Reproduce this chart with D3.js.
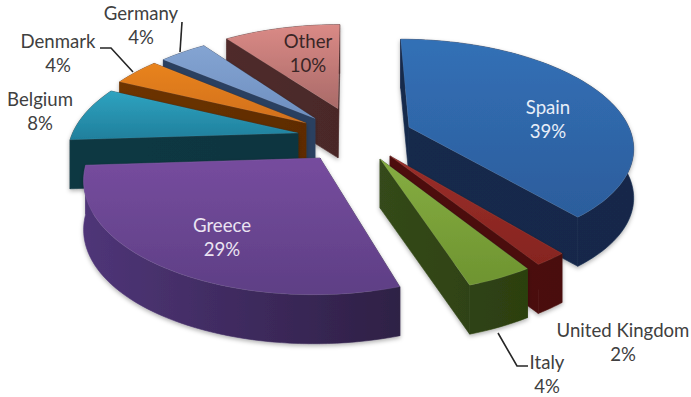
<!DOCTYPE html>
<html>
<head>
<meta charset="utf-8">
<script src="https://cdn.jsdelivr.net/npm/d3@7"></script>
<style>
html,body{margin:0;padding:0;background:#fff}
svg{display:block}
text{font-family:Lato,"Open Sans",sans-serif;font-size:18.6px;text-anchor:middle}
</style>
</head>
<body>
<svg id="chart" width="691" height="397"></svg>
<script>
// Pie shares, clockwise from twelve o'clock
const countries = ["Spain","United Kingdom","Italy","Greece","Belgium","Denmark","Germany","Other"];
const shares = [39,2,4,29,8,4,4,10];

// Shading per slice: top surface (far, near) and wall (left, right)
const topFar = ["#3270b6","#9a2e2a","#86ad42","#764c9e","#2fa3c0","#e8831f","#84a4d2","#da8a86"];
const topNear = ["#2c5d9c","#86241f","#6e9430","#5e3f85","#1f7f9c","#d2701a","#6e8fc0","#a96a68"];
const wallLeft = ["#15294c","#4e100e","#34491a","#4f3578","#0f3843","#6e3404","#2b3f60","#4f2c2c"];
const wallRight = ["#13284a","#4a0f0d","#2c3f10","#2e2045","#0f3540","#5e2c04","#2b3f60","#4a2828"];

// Where each wedge has been pulled to on the ground plane, and its reach
const pullX = [0.272,0.1766,0.132,-0.132,-0.2385,-0.205,-0.164,-0.057];
const pullY = [0.038,-0.235,-0.263,-0.254,-0.02,0.08,0.125,0.225];
const reach = [1.015,1,1,1.02,1.03,1.04,1.04,1.03];

// Back slices are painted before the ones in front of them
const paintOrder = [7,6,5,4,3,0,1,2];

// Captions: text lines, centre x, first baseline y, colour
const captions = [
  {lines:["Spain","39%"],x:548,y:114,fill:"#e8eef8"},
  {lines:["United Kingdom","2%"],x:623,y:337,fill:"#404040"},
  {lines:["Italy","4%"],x:547,y:369,fill:"#404040"},
  {lines:["Greece","29%"],x:222,y:232,fill:"#ebe4f2"},
  {lines:["Belgium","8%"],x:40,y:106,fill:"#404040"},
  {lines:["Denmark","4%"],x:58,y:48,fill:"#404040"},
  {lines:["Germany","4%"],x:141,y:20,fill:"#404040"},
  {lines:["Other","10%"],x:308,y:48,fill:"#3a2626"}
];
const lineGap = 24;

// Leader lines running from captions to slices
const leaders = [
  [[182,22],[180,52]],
  [[100,48],[111,48],[133,72]],
  [[498,333],[517,366],[528,366]]
];

// Perspective camera over a unit disc
const camera = {cx:350,cy:131,rx:218,ry:102,persp:0.162,height:49};

function project(X,Y){
  const w = 1 + camera.persp*Y;
  return [camera.cx + camera.rx*X/w, camera.cy - camera.ry*Y/w];
}

const pie = d3.pie().sort(null).value(d=>d);
const arcs = pie(shares);

function rimPoint(i,a){
  return project(pullX[i] + reach[i]*Math.sin(a), pullY[i] + reach[i]*Math.cos(a));
}
function rimPoints(i){
  const {startAngle:a0,endAngle:a1} = arcs[i];
  const n = Math.max(6, Math.ceil((a1-a0)*30));
  return d3.range(n+1).map(k=>rimPoint(i,a0+(a1-a0)*k/n));
}
const lower = p => [p[0],p[1]+camera.height];
const poly = pts => {
  const path = d3.path();
  pts.forEach((p,k)=> k ? path.lineTo(p[0],p[1]) : path.moveTo(p[0],p[1]));
  path.closePath();
  return path.toString();
};

const svg = d3.select("#chart");
const defs = svg.append("defs");

const shadow = defs.append("filter").attr("id","soft")
  .attr("x","-10%").attr("y","-10%").attr("width","120%").attr("height","130%");
shadow.append("feDropShadow").attr("dx",0).attr("dy",2).attr("stdDeviation",2.2)
  .attr("flood-color","#000").attr("flood-opacity",0.3);

countries.forEach((c,i)=>{
  const t = defs.append("linearGradient").attr("id","top"+i)
    .attr("x1",0).attr("y1",0).attr("x2",0).attr("y2",1);
  t.append("stop").attr("offset","0%").attr("stop-color",topFar[i]);
  t.append("stop").attr("offset","100%").attr("stop-color",topNear[i]);

  // Walls of one slice share a single horizontal ramp across its width
  const xs = rimPoints(i).map(p=>p[0]).concat(project(pullX[i],pullY[i])[0]);
  const w = defs.append("linearGradient").attr("id","wall"+i)
    .attr("gradientUnits","userSpaceOnUse")
    .attr("x1",d3.min(xs)).attr("y1",0).attr("x2",d3.max(xs)).attr("y2",0);
  w.append("stop").attr("offset","0%").attr("stop-color",wallLeft[i]);
  w.append("stop").attr("offset","100%").attr("stop-color",wallRight[i]);
});

const slices = svg.append("g").selectAll("g").data(paintOrder).join("g")
  .attr("class",i=>"slice "+countries[i].replace(" ","-"))
  .attr("filter","url(#soft)");

slices.each(function(i){
  const g = d3.select(this);
  const apex = project(pullX[i],pullY[i]);
  const rim = rimPoints(i);
  const first = rim[0], last = rim[rim.length-1];
  const wall = "url(#wall"+i+")";
  const faces = [
    [apex,first,lower(first),lower(apex)],
    [apex,last,lower(last),lower(apex)],
    rim.concat(rim.map(lower).reverse())
  ];
  g.selectAll("path.wall").data(faces).join("path").attr("class","wall")
    .attr("fill",wall).attr("stroke",wall).attr("stroke-width",0.6).attr("d",poly);
  g.append("path").attr("fill","url(#top"+i+")")
    .attr("stroke","#fff").attr("stroke-opacity",0.1).attr("stroke-width",0.8)
    .attr("d",poly([apex].concat(rim)));
});

const line = d3.line();
svg.append("g").selectAll("path").data(leaders).join("path")
  .attr("d",d=>line(d)).attr("fill","none").attr("stroke","#262626").attr("stroke-width",1.6);

const labels = svg.append("g").selectAll("text").data(captions).join("text")
  .attr("fill",d=>d.fill);
labels.selectAll("tspan").data(d=>d.lines.map((t,k)=>({t,x:d.x,y:d.y+k*lineGap}))).join("tspan")
  .attr("x",d=>d.x).attr("y",d=>d.y).text(d=>d.t);
</script>
</body>
</html>
